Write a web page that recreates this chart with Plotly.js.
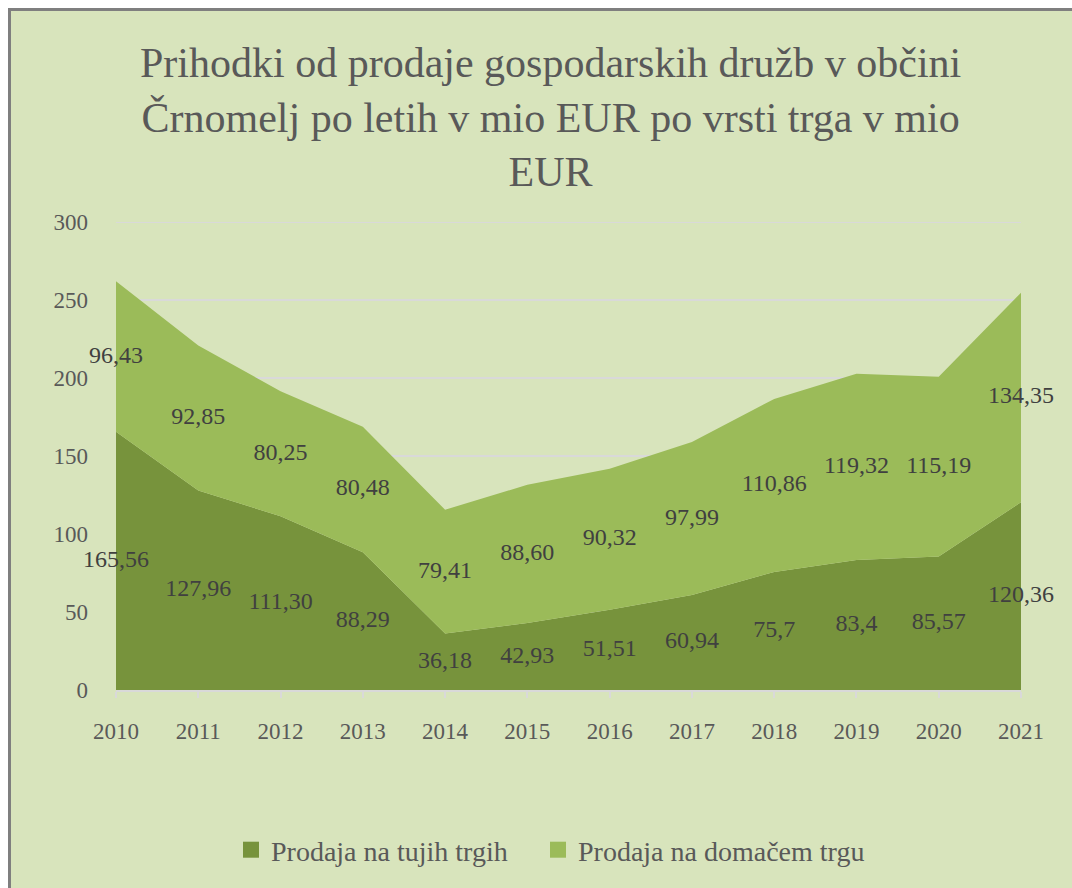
<!DOCTYPE html>
<html>
<head>
<meta charset="utf-8">
<script src="https://cdn.plot.ly/plotly-3.0.1.min.js"></script>
<style>
  html, body { margin: 0; padding: 0; background: #ffffff; width: 1072px; height: 888px; overflow: hidden; }
  #frame { position: absolute; left: 8px; top: 8px; width: 1080px; height: 900px;
           background: #d8e4bc; border-left: 3px solid #7f7f7f; border-top: 3px solid #7f7f7f; }
  #chart { position: absolute; left: 0; top: 0; width: 1072px; height: 888px; }
</style>
</head>
<body>
<div id="frame"></div>
<div id="chart"></div>
<script>
// ---- data ----
const years = [2010, 2011, 2012, 2013, 2014, 2015, 2016, 2017, 2018, 2019, 2020, 2021];
const tuji = [165.56, 127.96, 111.30, 88.29, 36.18, 42.93, 51.51, 60.94, 75.7, 83.4, 85.57, 120.36];
const domaci = [96.43, 92.85, 80.25, 80.48, 79.41, 88.60, 90.32, 97.99, 110.86, 119.32, 115.19, 134.35];
const tujiLabels = ["165,56", "127,96", "111,30", "88,29", "36,18", "42,93", "51,51", "60,94", "75,7", "83,4", "85,57", "120,36"];
const domaciLabels = ["96,43", "92,85", "80,25", "80,48", "79,41", "88,60", "90,32", "97,99", "110,86", "119,32", "115,19", "134,35"];
const seriesNames = ["Prodaja na tujih trgih", "Prodaja na domačem trgu"];
const yTicks = [0, 50, 100, 150, 200, 250, 300];
const titleText = "Prihodki od prodaje gospodarskih družb v občini<br>Črnomelj po letih v mio EUR po vrsti trga v mio<br>EUR";

const darkGreen = "#77933c";
const lightGreen = "#9bbb59";
const font = "'Liberation Serif', 'DejaVu Serif', serif";

// label positions: middle of each stacked band
const tujiMid = tuji.map(v => v / 2);
const domaciMid = domaci.map((v, i) => tuji[i] + v / 2);

const traces = [
  { x: years, y: tuji, stackgroup: "one", mode: "none", fillcolor: darkGreen,
    name: seriesNames[0], showlegend: false, hoverinfo: "skip" },
  { x: years, y: domaci, stackgroup: "one", mode: "none", fillcolor: lightGreen,
    name: seriesNames[1], showlegend: false, hoverinfo: "skip" },
  { x: years, y: tujiMid, mode: "text", text: tujiLabels, textposition: "middle center",
    textfont: { family: font, size: 24, color: "#404040" }, cliponaxis: false,
    showlegend: false, hoverinfo: "skip" },
  { x: years, y: domaciMid, mode: "text", text: domaciLabels, textposition: "middle center",
    textfont: { family: font, size: 24, color: "#404040" }, cliponaxis: false,
    showlegend: false, hoverinfo: "skip" },
  { x: [null], y: [null], mode: "markers", name: seriesNames[0], legend: "legend",
    marker: { symbol: "square", size: 16, color: darkGreen } },
  { x: [null], y: [null], mode: "markers", name: seriesNames[1], legend: "legend2",
    marker: { symbol: "square", size: 16, color: lightGreen } }
];

const legendCommon = {
  orientation: "h",
  xanchor: "left",
  y: (690 - 850) / 468, yanchor: "middle",
  font: { family: font, size: 28, color: "#595959" },
  bgcolor: "rgba(0,0,0,0)",
  itemclick: false, itemdoubleclick: false
};

const layout = {
  width: 1072, height: 888,
  paper_bgcolor: "rgba(0,0,0,0)",
  plot_bgcolor: "rgba(0,0,0,0)",
  margin: { l: 116, r: 51, t: 222, b: 198 },
  font: { family: font, color: "#595959" },
  annotations: [{
    text: titleText,
    font: { family: font, size: 42, color: "#595959" },
    xref: "paper", yref: "paper",
    x: (550 - 116) / 905, xanchor: "center",
    y: (690 - 38) / 468, yanchor: "top",
    showarrow: false, align: "center"
  }],
  shapes: [{
    type: "line", layer: "below", xref: "paper", yref: "y",
    x0: 0, x1: 1, y0: yTicks[yTicks.length - 1], y1: yTicks[yTicks.length - 1],
    line: { color: "#d9d9d9", width: 2 }
  }],
  xaxis: {
    range: [years[0], years[years.length - 1]],
    tickmode: "array", tickvals: years, ticktext: years.map(String),
    showgrid: false, zeroline: false,
    showline: true, linecolor: "#d9d9d9", linewidth: 2,
    ticks: "outside", ticklen: 6, tickcolor: "#d9d9d9", tickwidth: 2,
    tickfont: { family: font, size: 23, color: "#595959" },
    ticklabelstandoff: 13
  },
  yaxis: {
    range: [0, 300], tickvals: yTicks,
    showgrid: true, gridcolor: "#d9d9d9", gridwidth: 2,
    zeroline: false, showline: false, ticks: "",
    tickfont: { family: font, size: 23, color: "#595959" },
    ticklabelstandoff: 27
  },
  showlegend: true,
  legend: Object.assign({}, legendCommon, { x: (231 - 116) / 905 }),
  legend2: Object.assign({}, legendCommon, { x: (538 - 116) / 905 }),
  hovermode: false
};

Plotly.newPlot("chart", traces, layout, { displayModeBar: false, staticPlot: true });
</script>
</body>
</html>
